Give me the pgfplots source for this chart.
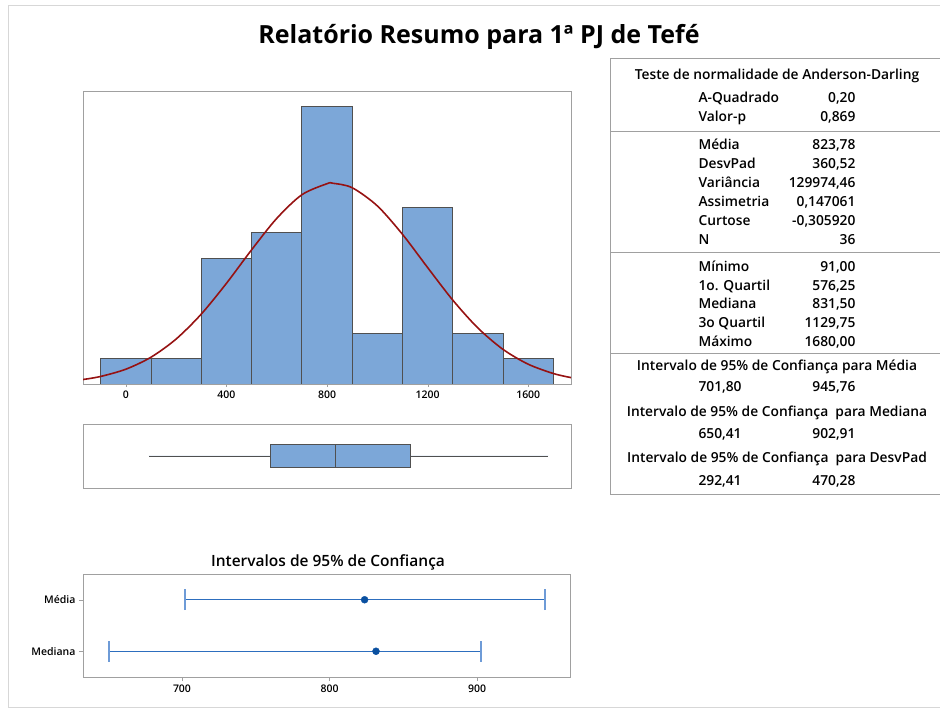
\documentclass[border=0pt]{standalone}
\usepackage{fontspec}
\setmainfont{Open Sans}
\IfFontExistsTF{Open Sans SemiBold}
  {\newfontfamily\sbf{Open Sans SemiBold}}
  {\IfFontExistsTF{Open Sans Semibold}
    {\newfontfamily\sbf{Open Sans Semibold}}
    {\newfontfamily\sbf{Open Sans}[FakeBold=1.5]}}
\usepackage{pgfplots}
\pgfplotsset{compat=1.18}
\usepgfplotslibrary{statistics}
\definecolor{barblue}{RGB}{124,167,216}
\definecolor{bargray}{RGB}{80,80,80}
\definecolor{axisgray}{RGB}{160,160,160}
\definecolor{framegray}{RGB}{215,215,215}
\definecolor{curvered}{RGB}{150,18,18}
\definecolor{ciblue}{RGB}{45,110,190}
\definecolor{caplight}{RGB}{110,155,215}
\definecolor{dotblue}{RGB}{10,80,160}

\newcommand\srow[3]{%
  \node[anchor=base west] at (695,#1) {#2};
  \node[anchor=base east] at (859,#1) {#3};}

\begin{document}
\begin{tikzpicture}
\useasboundingbox (0,0) rectangle (940pt,710pt);

% histogram with fitted normal
\begin{axis}[
    at={(83pt,326pt)}, anchor=south west,
    scale only axis, width=488pt, height=293pt,
    xmin=-170, xmax=1770, ymin=0, ymax=11.63,
    axis line style={axisgray},
    ytick=\empty,
    xtick={0,400,800,1200,1600},
    xtick pos=bottom, tick align=outside, major tick length=3pt,
    tick style={axisgray},
    xticklabel style={font=\sbf\fontsize{10.5}{12}\selectfont},
    /pgf/number format/1000 sep={},
    /pgf/number format/assume math mode=true,
]
\addplot[ybar interval, fill=barblue, draw=bargray, line width=0.8pt] coordinates {
    (-100,1) (100,1) (300,5) (500,6) (700,11) (900,2)
    (1100,7) (1300,2) (1500,1) (1700,1)
};
\addplot[curvered, line width=1.6pt, smooth] coordinates {
    (-170,0.178) (-100,0.299) (0,0.586) (100,1.062) (200,1.783)
    (300,2.773) (400,3.993) (500,5.323) (600,6.571) (700,7.511)
    (800,7.950) (823.78,7.967) (900,7.791) (1000,7.070) (1100,5.941)
    (1200,4.622) (1300,3.330) (1400,2.221) (1500,1.372) (1600,0.785)
    (1700,0.416) (1770,0.254)
};
\end{axis}

% boxplot
\begin{axis}[
    at={(83pt,222pt)}, anchor=south west,
    scale only axis, width=488pt, height=64pt,
    xmin=-170, xmax=1770, ymin=0, ymax=2,
    axis line style={axisgray},
    xtick=\empty, ytick=\empty,
]
\addplot[fill=barblue, draw=bargray, line width=0.8pt,
  boxplot prepared={draw position=1,
    lower whisker=91, lower quartile=576.25, median=831.5,
    upper quartile=1129.75, upper whisker=1680,
    box extend=0.7, whisker extend=0}] coordinates {};
\end{axis}

% confidence intervals
\begin{axis}[
    at={(83pt,33pt)}, anchor=south west,
    scale only axis, width=487pt, height=103pt,
    xmin=632.9, xmax=963, ymin=-0.5, ymax=1.5,
    axis line style={axisgray},
    xtick={700,800,900}, ytick={0,1}, yticklabels={Mediana,Média},
    tick align=outside, major tick length=4pt,
    tick style={axisgray},
    xtick pos=bottom, ytick pos=left,
    tick label style={font=\sbf\fontsize{10.5}{12}\selectfont},
    /pgf/number format/assume math mode=true,
]
\addplot[ciblue, line width=1.45pt] coordinates {(701.80,1) (945.76,1)};
\addplot[ciblue, line width=1.45pt] coordinates {(650.41,0) (902.91,0)};
\addplot[caplight, line width=2pt] coordinates {(701.80,0.80) (701.80,1.20)};
\addplot[caplight, line width=2pt] coordinates {(945.76,0.80) (945.76,1.20)};
\addplot[caplight, line width=2pt] coordinates {(650.41,-0.20) (650.41,0.20)};
\addplot[caplight, line width=2pt] coordinates {(902.91,-0.20) (902.91,0.20)};
\addplot[only marks, mark=*, mark size=3.5pt, dotblue] coordinates {(823.78,1) (831.50,0)};
\end{axis}

\begin{scope}[x=1pt,y=1pt]
\draw[framegray] (941,705) -- (8,705) -- (8,3) -- (941,3);

% titles
\node[anchor=base, font=\bfseries\fontsize{25}{30}\selectfont] at (479,666)
  {Relatório Resumo para 1ª PJ de Tefé};
\node[anchor=base, font=\sbf\fontsize{15.5}{17}\selectfont] at (328,143)
  {Intervalos de 95\% de Confiança};

% statistics table
\draw[axisgray] (941,652) -- (610,652) -- (610,216) -- (941,216);
\draw[axisgray] (610,579) -- (941,579);
\draw[axisgray] (610,458) -- (941,458);
\draw[axisgray] (610,357) -- (941,357);
\begin{scope}[font=\sbf\fontsize{13.8}{16}\selectfont]
\node[anchor=base] at (777,630) {Teste de normalidade de Anderson-Darling};
\srow{607}{A-Quadrado}{0,20}
\srow{588}{Valor-p}{0,869}
\srow{560}{Média}{823,78}
\srow{541}{DesvPad}{360,52}
\srow{522}{Variância}{129974,46}
\srow{503}{Assimetria}{0,147061}
\srow{484}{Curtose}{-0,305920}
\srow{465}{N}{36}
\srow{438}{Mínimo}{91,00}
\srow{419}{1o. Quartil}{576,25}
\srow{401}{Mediana}{831,50}
\srow{382}{3o Quartil}{1129,75}
\srow{363}{Máximo}{1680,00}
\node[anchor=base] at (777,339) {Intervalo de 95\% de Confiança para Média};
\srow{318}{701,80}{945,76}
\node[anchor=base] at (777,293) {Intervalo de 95\% de Confiança\ \ para Mediana};
\srow{271}{650,41}{902,91}
\node[anchor=base] at (777,247) {Intervalo de 95\% de Confiança\ \ para DesvPad};
\srow{224}{292,41}{470,28}
\end{scope}
\end{scope}
\end{tikzpicture}
\end{document}
